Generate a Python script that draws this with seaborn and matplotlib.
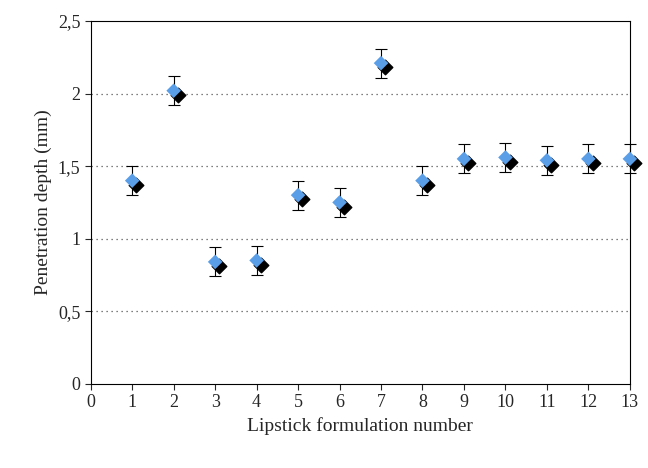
import matplotlib
matplotlib.use("Agg")
import matplotlib.pyplot as plt
import matplotlib.transforms as mtransforms
import seaborn as sns
import pandas as pd

formulation = [1, 2, 3, 4, 5, 6, 7, 8, 9, 10, 11, 12, 13]
depth = [1.40, 2.02, 0.84, 0.85, 1.30, 1.25, 2.21, 1.40, 1.55, 1.56, 1.54, 1.55, 1.55]
err = [0.10, 0.10, 0.10, 0.10, 0.10, 0.10, 0.10, 0.10, 0.10, 0.10, 0.10, 0.10, 0.10]
y_ticks = [0, 0.5, 1, 1.5, 2, 2.5]
y_labels = ["0", "0,5", "1", "1,5", "2", "2,5"]

df = pd.DataFrame({"x": formulation, "y": depth, "e": err})

sns.set_style("white")
plt.rcParams["font.family"] = "Liberation Serif"
fig, ax = plt.subplots(figsize=(6.48, 4.68), dpi=100)
fig.subplots_adjust(left=0.14, right=0.972, top=0.955, bottom=0.18)

for yv in y_ticks[1:-1]:
    ax.axhline(yv, color="#555555", linestyle=(0, (1, 3)), linewidth=0.9, zorder=0)

ax.errorbar(df["x"], df["y"], yerr=df["e"], fmt="none", ecolor="black",
            elinewidth=0.8, capsize=4, capthick=0.8, zorder=1, clip_on=False)

shadow = ax.transData + mtransforms.ScaledTranslation(3 / 72, -3 / 72, fig.dpi_scale_trans)
ax.scatter(df["x"], df["y"], marker="D", s=55, color="black", transform=shadow,
           zorder=2, clip_on=False)
sns.scatterplot(data=df, x="x", y="y", marker="D", s=55, color="#5b9ee8",
                edgecolor="none", ax=ax, zorder=3, clip_on=False)

ax.set_xlim(0, 13)
ax.set_ylim(0, 2.5)
ax.set_xticks(range(0, 14))
ax.set_yticks(y_ticks)
ax.set_yticklabels(y_labels)
ax.tick_params(labelsize=13, direction="out", length=4, left=True, bottom=True)
ax.set_xlabel("Lipstick formulation number", fontsize=14)
ax.set_ylabel("Penetration depth (mm)", fontsize=14)
for s in ax.spines.values():
    s.set_color("black")
    s.set_linewidth(0.8)

fig.savefig("out.png", dpi=100)
